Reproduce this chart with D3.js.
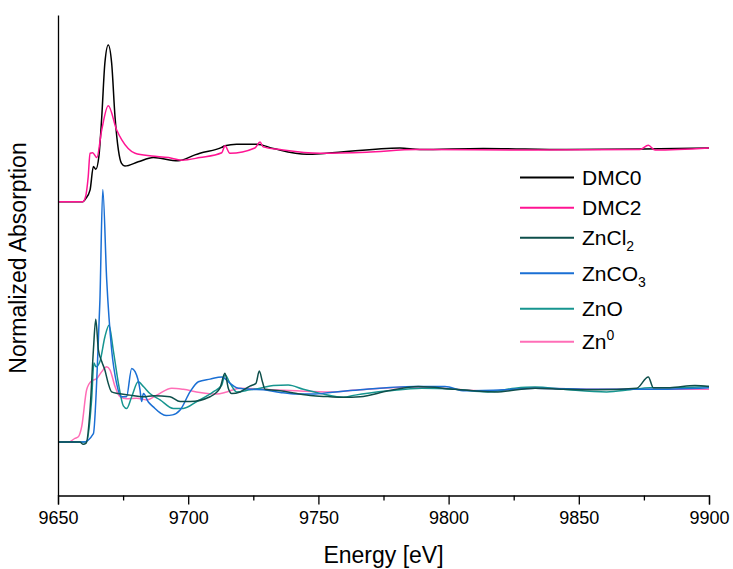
<!DOCTYPE html>
<html>
<head>
<meta charset="utf-8">
<script src="https://cdn.jsdelivr.net/npm/d3@7/dist/d3.min.js"></script>
<style>
  body { margin: 0; background: #fff; }
  text { font-family: Arial, "Liberation Sans", sans-serif; fill: #000; }
</style>
</head>
<body>
<svg id="chart" width="733" height="569"></svg>
<script>
// x axis
const energyDomain = [9650, 9900];
const majorTicks = [9650, 9700, 9750, 9800, 9850, 9900];
const minorTicks = [9675, 9725, 9775, 9825, 9875];

// normalized absorption, [energy eV, mu]
const dmc0 = [
  [9650, 0], [9659.5, 0], [9660.5, 0.05], [9662.3, 0.22], [9663.6, 0.66], [9664.5, 0.61],
  [9665.7, 0.85], [9666.8, 1.59], [9668.0, 2.60], [9669.3, 2.94], [9670.6, 2.60], [9671.9, 1.59],
  [9673.2, 0.97], [9674.4, 0.72], [9675.7, 0.67], [9680.8, 0.75], [9686.6, 0.83], [9696.1, 0.77],
  [9702.6, 0.88], [9704.5, 0.91], [9712.9, 1.02], [9714.1, 1.05], [9718.6, 1.08], [9726.3, 1.08],
  [9732.7, 1.00], [9745.5, 0.89], [9753.2, 0.91], [9781.3, 1.01], [9789, 0.98], [9813.3, 1.00],
  [9845.3, 0.98], [9874.8, 0.99], [9900, 1.01]
];
const dmc2 = [
  [9650, 0], [9659.5, 0], [9660.5, 0.08], [9661.6, 0.47], [9662.3, 0.91], [9663.3, 0.92],
  [9664.9, 0.83], [9666.8, 1.35], [9669.3, 1.80], [9672.5, 1.35], [9674.5, 1.16], [9679.6, 0.91],
  [9686, 0.86], [9692.4, 0.83], [9697.5, 0.78], [9704.5, 0.83], [9712.9, 0.92], [9714.1, 1.05],
  [9716, 0.91], [9725.6, 1.01], [9727.6, 1.12], [9728.8, 1.03], [9735.3, 0.98], [9750.6, 0.91],
  [9768.5, 0.93], [9787.7, 0.98], [9832.5, 0.97], [9873.5, 0.98], [9876.7, 1.06], [9879.3, 0.97],
  [9900, 1.01]
];
const zncl2 = [
  [9650, 0], [9658.4, 0], [9659.7, -0.04], [9660.8, -0.02], [9662.3, 0.60], [9663.6, 1.73],
  [9664.5, 2.30], [9665.5, 1.73], [9666.8, 1.51], [9668.0, 1.35], [9669.3, 1.10], [9670.6, 0.94],
  [9673.1, 0.91], [9677.6, 0.88], [9682.8, 0.85], [9686.6, 0.87], [9693.0, 0.85], [9696.9, 0.76],
  [9700.7, 0.76], [9708.4, 0.85], [9712.2, 1.01], [9714.1, 1.29], [9715.4, 1.01], [9716.7, 0.91],
  [9719.9, 0.94], [9723.7, 1.05], [9726.0, 1.10], [9727.3, 1.33], [9728.5, 1.13], [9729.5, 0.99],
  [9735.3, 0.96], [9741.7, 0.91], [9748.0, 0.87], [9754.5, 0.85], [9759.6, 0.84], [9766.0, 0.85],
  [9776.8, 0.96], [9788.4, 1.04], [9802.5, 0.99], [9817.8, 0.94], [9833.2, 1.01], [9844.1, 0.99],
  [9856.9, 0.98], [9872.2, 1.01], [9876.7, 1.22], [9878.6, 1.02], [9885.0, 1.02], [9894.6, 1.06],
  [9900, 1.04]
];
const znco3 = [
  [9650, 0], [9659.7, 0], [9663.6, 0.16], [9665.1, 1.41], [9666.1, 2.66], [9667.2, 4.73],
  [9668.7, 3.04], [9670.6, 1.73], [9672.5, 1.10], [9674.4, 0.85], [9676.3, 0.85], [9678.3, 1.38],
  [9679.6, 1.32], [9681.5, 0.98], [9682.1, 0.76], [9682.8, 0.91], [9684.7, 0.75], [9686.6, 0.66],
  [9689.2, 0.55], [9691.5, 0.50], [9694.0, 0.51], [9696.9, 0.60], [9700.7, 0.94], [9703.9, 1.13],
  [9708.4, 1.18], [9712.9, 1.22], [9714.1, 1.19], [9716.1, 1.10], [9718.6, 1.02], [9723.7, 0.99],
  [9728.8, 0.98], [9735.3, 0.93], [9741.7, 0.90], [9748, 0.90], [9754.5, 0.93], [9766, 0.98],
  [9787.1, 1.04], [9798.6, 1.04], [9806.3, 0.96], [9821.7, 0.98], [9833.2, 1.01], [9858.1, 0.99],
  [9877.3, 0.99], [9900, 1.02]
];
const zno = [
  [9650, 0], [9661.0, 0], [9662.9, 0.79], [9663.8, 1.48], [9664.6, 1.41], [9666.1, 1.51],
  [9668.0, 1.97], [9669.6, 2.19], [9671.2, 1.73], [9673.2, 1.10], [9675.1, 0.68], [9676.4, 0.63],
  [9678.3, 0.85], [9680.8, 1.13], [9682.8, 1.04], [9685.3, 0.91], [9689.2, 0.79], [9694.3, 0.63],
  [9698.1, 0.63], [9703.3, 0.76], [9709.6, 0.94], [9712.9, 1.07], [9714.1, 1.26], [9716.1, 1.10],
  [9718.6, 0.94], [9723.7, 0.98], [9727.6, 1.01], [9732.7, 1.06], [9738.4, 1.07], [9744.2, 0.99],
  [9751.9, 0.90], [9759.6, 0.84], [9764.1, 0.88], [9776.8, 0.96], [9789.7, 1.01], [9802.5, 0.99],
  [9815.1, 0.94], [9825.5, 1.01], [9833.2, 1.03], [9844.1, 0.99], [9860.7, 0.94], [9869.7, 0.98],
  [9877.3, 1.02], [9888.9, 1.02], [9900, 1.04]
];
const zn0 = [
  [9650, 0], [9654, 0], [9656.5, 0.07], [9657.8, 0.10], [9659.1, 0.29], [9661.0, 0.98],
  [9662.9, 1.15], [9664.9, 1.19], [9666.8, 1.32], [9668.7, 1.41], [9670.0, 1.35], [9671.9, 1.04],
  [9673.8, 0.85], [9676.4, 0.81], [9680.2, 0.82], [9684.1, 0.79], [9687.9, 0.88], [9693.7, 1.01],
  [9698.1, 0.99], [9704.5, 0.93], [9710.9, 0.90], [9714.8, 0.94], [9719.9, 1.01], [9728.8, 0.99],
  [9741.7, 0.96], [9754.5, 0.94], [9766.0, 0.98], [9787.1, 1.03], [9802.5, 0.99], [9815.1, 0.96],
  [9833.2, 1.01], [9858.1, 0.99], [9900, 0.99]
];

// stacked offset of the DMC spectra
const stackOffset = 4.5;

const series = [
  { label: [['DMC0']], data: dmc0, color: '#000000', offset: stackOffset },
  { label: [['DMC2']], data: dmc2, color: '#ff1493', offset: stackOffset },
  { label: [['ZnCl'], ['2', 'sub']], data: zncl2, color: '#0e4f4b', offset: 0 },
  { label: [['ZnCO'], ['3', 'sub']], data: znco3, color: '#1a6fd4', offset: 0 },
  { label: [['ZnO']], data: zno, color: '#16958f', offset: 0 },
  { label: [['Zn'], ['0', 'sup']], data: zn0, color: '#ff6eb7', offset: 0 }
];

const svg = d3.select('#chart');
const x = d3.scaleLinear().domain(energyDomain).range([58, 709]);
const y = d3.scaleLinear().domain([-1, 8]).range([495.5, 15]);

// draw order: bottom group first, DMC2 on top of DMC0
const drawOrder = [5, 4, 3, 2, 0, 1];
const line = d3.line()
  .x(d => x(d[0]))
  .curve(d3.curveMonotoneX);

drawOrder.forEach(i => {
  const s = series[i];
  svg.append('path')
    .datum(s.data)
    .attr('fill', 'none')
    .attr('stroke', s.color)
    .attr('stroke-width', 1.5)
    .attr('stroke-linejoin', 'round')
    .attr('d', line.y(d => y(d[1] + s.offset)));
});

// axes
const xMajor = svg.append('g')
  .attr('transform', `translate(0,${y(-1)})`)
  .call(d3.axisBottom(x).tickValues(majorTicks).tickSize(9).tickPadding(7).tickFormat(d3.format('d')));
xMajor.selectAll('text').style('font-size', '18px');

const xMinor = svg.append('g')
  .attr('transform', `translate(0,${y(-1)})`)
  .call(d3.axisBottom(x).tickValues(minorTicks).tickSize(5).tickFormat(''));
xMinor.select('.domain').remove();

svg.append('g')
  .attr('transform', `translate(${x(9650)},0)`)
  .call(d3.axisLeft(y).tickValues([]).tickSizeOuter(0));

svg.selectAll('.domain, .tick line').attr('stroke', '#000').attr('stroke-width', 1.3);

svg.append('text')
  .attr('x', 383.5).attr('y', 563)
  .attr('text-anchor', 'middle')
  .style('font-size', '23px')
  .text('Energy [eV]');

svg.append('text')
  .attr('transform', 'translate(26,258) rotate(-90)')
  .attr('text-anchor', 'middle')
  .style('font-size', '23px')
  .text('Normalized Absorption');

// legend
const legendY = [177.5, 207.7, 237.7, 273.3, 308.7, 341.7];
series.forEach((s, i) => {
  const g = svg.append('g').attr('transform', `translate(520,${legendY[i]})`);
  g.append('line')
    .attr('x1', 0).attr('x2', 54)
    .attr('stroke', s.color).attr('stroke-width', 2);
  const t = g.append('text')
    .attr('x', 62).attr('dy', '0.36em')
    .style('font-size', '21px');
  s.label.forEach(part => {
    const ts = t.append('tspan').text(part[0]);
    if (part[1] === 'sub') ts.style('font-size', '14px').attr('dy', '6');
    if (part[1] === 'sup') ts.style('font-size', '14px').attr('dy', '-9');
  });
});
</script>
</body>
</html>
